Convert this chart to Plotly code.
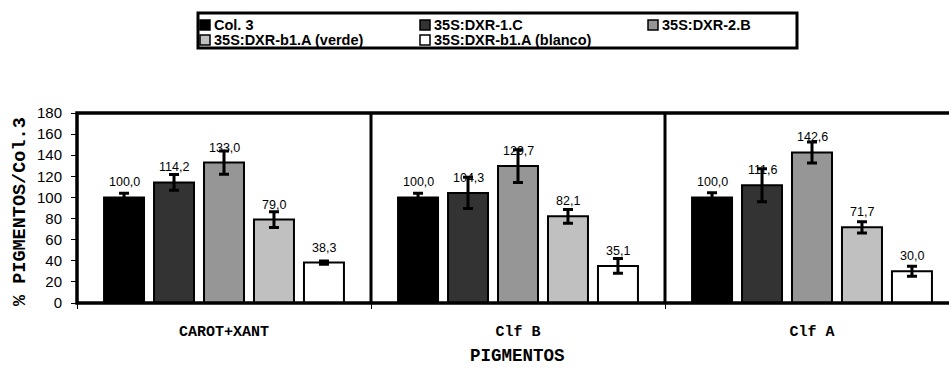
import plotly.graph_objects as go

# ---- data -------------------------------------------------------------
categories = ["CAROT+XANT", "Clf B", "Clf A"]
series_names = [
    "Col. 3",
    "35S:DXR-1.C",
    "35S:DXR-2.B",
    "35S:DXR-b1.A (verde)",
    "35S:DXR-b1.A (blanco)",
]
col3 = [100.0, 100.0, 100.0]
dxr_1c = [114.2, 104.3, 111.6]
dxr_2b = [133.0, 129.7, 142.6]
dxr_b1a_verde = [79.0, 82.1, 71.7]
dxr_b1a_blanco = [38.3, 35.1, 30.0]

err_col3 = [4.0, 4.0, 4.5]
err_dxr_1c = [7.5, 14.8, 15.6]
err_dxr_2b = [11.0, 15.5, 10.0]
err_dxr_b1a_verde = [7.5, 6.5, 5.3]
err_dxr_b1a_blanco = [1.5, 7.0, 4.7]

y_ticks = [0, 20, 40, 60, 80, 100, 120, 140, 160, 180]

values = [col3, dxr_1c, dxr_2b, dxr_b1a_verde, dxr_b1a_blanco]
errors = [err_col3, err_dxr_1c, err_dxr_2b, err_dxr_b1a_verde, err_dxr_b1a_blanco]
colors = ["#000000", "#333333", "#969696", "#c0c0c0", "#ffffff"]

# ---- layout geometry (pixels) -------------------------------------------
W, H = 949, 369
PLOT_L, PLOT_R, PLOT_T, PLOT_B = 77, 949, 113, 303
BARGAP = 0.15
GROUPGAP = 0.2
SLOT = (1 - BARGAP) / len(series_names)


def px_x(p):
    return (p - PLOT_L) / (PLOT_R - PLOT_L)


def px_y(p):
    return (PLOT_B - p) / (PLOT_B - PLOT_T)


ARIAL = "Arial, Liberation Sans, sans-serif"
COURIER = "Courier New, Liberation Mono, monospace"

fig = go.Figure()
for name, vals, errs, col in zip(series_names, values, errors, colors):
    fig.add_trace(go.Bar(
        name=name,
        x=categories,
        y=vals,
        marker=dict(color=col, line=dict(color="black", width=2)),
        error_y=dict(type="data", array=errs, visible=True,
                     color="black", thickness=3, width=5),
        showlegend=False,
    ))

annotations = []
shapes = []

# value labels above each bar
for j, vals in enumerate(values):
    offset = (j - (len(series_names) - 1) / 2) * SLOT
    for i, v in enumerate(vals):
        annotations.append(dict(
            x=i + offset, y=v, xref="x", yref="y",
            text=f"{v:.1f}".replace(".", ","),
            showarrow=False, yanchor="middle", yshift=15,
            font=dict(family=ARIAL, size=12.5, color="black"),
        ))

# plot-area frame and category separators
shapes.append(dict(type="rect", xref="paper", yref="paper",
                   x0=0, x1=1.05, y0=0, y1=1,
                   line=dict(color="black", width=3.5), layer="above"))
for b in [0.5, 1.5]:
    shapes.append(dict(type="line", xref="x", yref="paper",
                       x0=b, x1=b, y0=0, y1=1,
                       line=dict(color="black", width=3), layer="above"))

# legend box
shapes.append(dict(type="rect", xref="paper", yref="paper",
                   x0=px_x(198), x1=px_x(797), y0=px_y(48), y1=px_y(13),
                   line=dict(color="black", width=3), fillcolor="white"))
col_lefts = [200, 420, 648]
row_centers = [25, 40]
for k, (name, col) in enumerate(zip(series_names, colors)):
    left = col_lefts[k % 3]
    cy = row_centers[k // 3]
    shapes.append(dict(type="rect", xref="paper", yref="paper",
                       x0=px_x(left), x1=px_x(left + 10),
                       y0=px_y(cy + 5), y1=px_y(cy - 5),
                       line=dict(color="black", width=1.5), fillcolor=col))
    annotations.append(dict(
        x=px_x(left + 12), y=px_y(cy), xref="paper", yref="paper",
        text=f"<b>{name}</b>", showarrow=False,
        xanchor="left", yanchor="middle",
        font=dict(family=ARIAL, size=14.5, color="black"),
    ))

# axis titles
annotations.append(dict(
    x=px_x(20), y=px_y(212), xref="paper", yref="paper",
    text="<b>% PIGMENTOS/Col.3</b>", textangle=-90, showarrow=False,
    xanchor="center", yanchor="middle",
    font=dict(family=COURIER, size=18.5, color="black"),
))
annotations.append(dict(
    x=px_x(517), y=px_y(356), xref="paper", yref="paper",
    text="<b>PIGMENTOS</b>", showarrow=False,
    xanchor="center", yanchor="middle",
    font=dict(family=COURIER, size=17.5, color="black"),
))

fig.update_layout(
    width=W, height=H,
    margin=dict(l=PLOT_L, r=W - PLOT_R, t=PLOT_T, b=H - PLOT_B, pad=0),
    paper_bgcolor="white", plot_bgcolor="white",
    barmode="group", bargap=BARGAP, bargroupgap=GROUPGAP,
    showlegend=False,
    annotations=annotations,
    shapes=shapes,
    xaxis=dict(
        type="category",
        range=[-0.5, 2.466],
        showline=True, linecolor="black", linewidth=1,
        ticks="outside", tickson="boundaries", ticklen=5,
        tickcolor="black", tickwidth=1,
        showgrid=False, zeroline=False,
        ticklabelstandoff=14,
        tickfont=dict(family=COURIER, size=15, color="black", weight="bold"),
    ),
    yaxis=dict(
        range=[0, 180],
        tickvals=y_ticks,
        showline=True, linecolor="black", linewidth=1,
        ticks="outside", ticklen=5, tickcolor="black", tickwidth=1,
        showgrid=False, zeroline=False,
        ticklabelstandoff=6,
        tickfont=dict(family=ARIAL, size=15, color="black"),
    ),
)

fig.write_html("out.html")
